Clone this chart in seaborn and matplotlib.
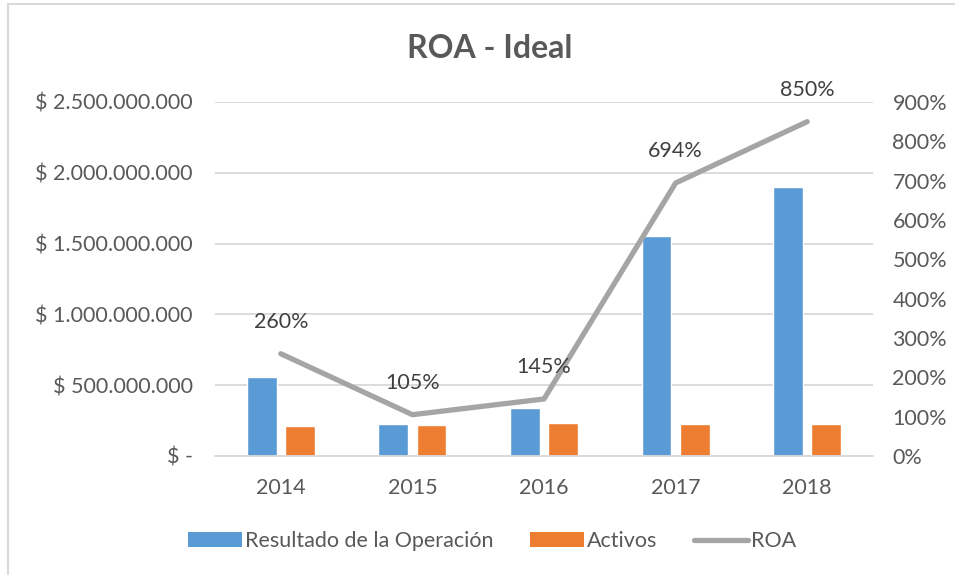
import numpy as np
import pandas as pd
import matplotlib
matplotlib.use("Agg")
import matplotlib.pyplot as plt
from matplotlib.ticker import FuncFormatter, PercentFormatter, MultipleLocator
from matplotlib.lines import Line2D
from matplotlib.patches import Patch
import seaborn as sns

years = ["2014", "2015", "2016", "2017", "2018"]
resultado = [560_000_000, 228_000_000, 337_000_000, 1_555_000_000, 1_900_000_000]
activos = [215_000_000, 218_000_000, 232_000_000, 224_000_000, 223_000_000]
roa = [2.60, 1.05, 1.45, 6.94, 8.50]
series_names = ["Resultado de la Operación", "Activos", "ROA"]

BLUE, ORANGE, GRAY = "#5B9BD5", "#ED7D31", "#A5A5A5"
TXT = "#595959"
GRID = "#D9D9D9"
FS = 15.5

sns.set_style("white")
plt.rcParams["font.family"] = ["Lato", "DejaVu Sans"]

df = pd.DataFrame({
    "Año": years * 2,
    "valor": resultado + activos,
    "serie": [series_names[0]] * len(years) + [series_names[1]] * len(years),
})

W, H = 955, 575
fig = plt.figure(figsize=(W / 100, H / 100), dpi=100)
ax = fig.add_axes([215 / W, (H - 456) / H, 658 / W, 354 / H])

sns.barplot(data=df, x="Año", y="valor", hue="serie", palette=[BLUE, ORANGE],
            width=0.58, gap=0.22, ax=ax, legend=False, saturation=1)
ax.set_xlim(-0.5, len(years) - 0.5)
ax.set_ylim(0, 2_500_000_000)
ax.yaxis.set_major_locator(MultipleLocator(500_000_000))

def money(v, pos):
    if v == 0:
        return "$ -"
    return "$ " + f"{int(round(v)):,}".replace(",", ".")

ax.yaxis.set_major_formatter(FuncFormatter(money))
ax.grid(axis="y", color=GRID, linewidth=1.3)
ax.set_axisbelow(True)
for s in ["top", "right", "left"]:
    ax.spines[s].set_visible(False)
ax.spines["bottom"].set_color(GRID)
ax.spines["bottom"].set_linewidth(1.3)
ax.set_xlabel("")
ax.set_ylabel("")
ax.tick_params(axis="both", length=0, colors=TXT, labelsize=FS)
ax.tick_params(axis="y", pad=16)
ax.tick_params(axis="x", pad=16)

ax2 = ax.twinx()
sns.lineplot(x=np.arange(len(years)), y=roa, ax=ax2, color=GRAY, linewidth=3.8,
             legend=False)
ax2.set_ylim(0, 9)
ax2.yaxis.set_major_locator(MultipleLocator(1))
ax2.yaxis.set_major_formatter(PercentFormatter(1.0, decimals=0))
for s in ax2.spines.values():
    s.set_visible(False)
ax2.tick_params(axis="y", length=0, colors=TXT, labelsize=FS, pad=14)
ax2.set_ylabel("")
for i, v in enumerate(roa):
    ax2.annotate(f"{v:.0%}", (i, v), xytext=(0, 23), textcoords="offset points",
                 ha="center", va="center", fontsize=FS, color="#404040")

fig.text(490 / W, 1 - 48 / H, "ROA - Ideal", ha="center", va="center",
         fontsize=23, fontweight="bold", color=TXT)

handles = [Patch(facecolor=BLUE, edgecolor="none"),
           Patch(facecolor=ORANGE, edgecolor="none"),
           Line2D([0], [0], color=GRAY, linewidth=3.8)]
fig.legend(handles, series_names, loc="center", bbox_to_anchor=(492 / W, 1 - 541 / H),
           ncol=3, frameon=False, fontsize=FS, labelcolor=TXT,
           handlelength=2.5, handleheight=0.65, handletextpad=0.15, columnspacing=1.7)

# chart border (top and left visible)
fig.add_artist(plt.Line2D([7.5 / W, 1], [1 - 3.5 / H, 1 - 3.5 / H],
                          transform=fig.transFigure, color="#D9D9D9", linewidth=1.5))
fig.add_artist(plt.Line2D([7.5 / W, 7.5 / W], [0, 1 - 3.5 / H],
                          transform=fig.transFigure, color="#D9D9D9", linewidth=1.5))

fig.savefig("out.png", dpi=100)
